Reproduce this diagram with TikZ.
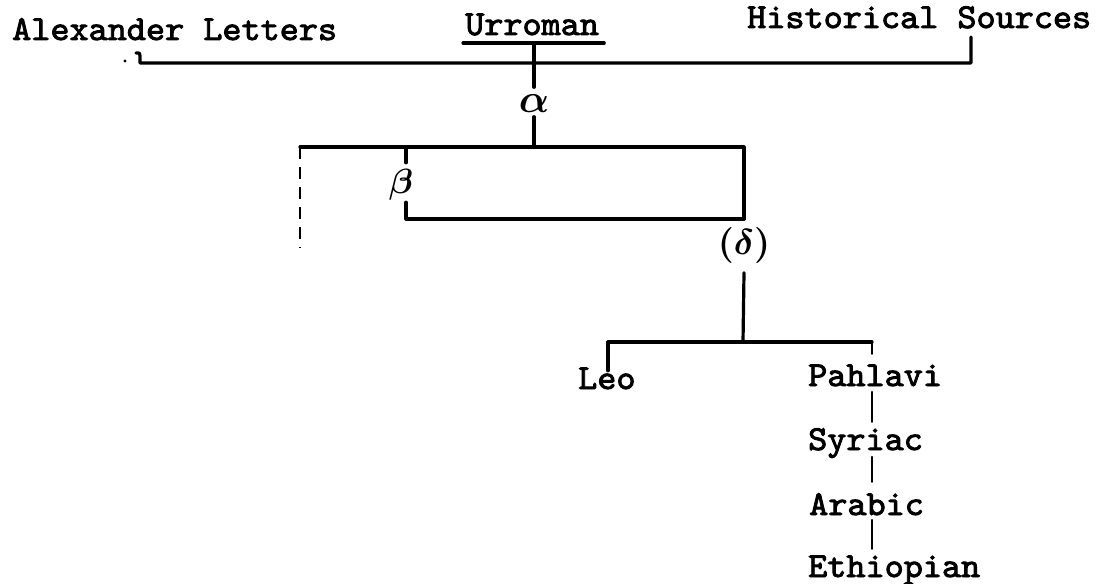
\documentclass[tikz,border=0pt]{standalone}
\usepackage{fontspec}
\newfontfamily\tw{lmmono10-regular.otf}[FakeBold=2.5,FakeStretch=1.04]
\usetikzlibrary{calc}
\tikzset{
  txt/.style={font=\tw\fontsize{35}{38}\selectfont, inner sep=0pt, anchor=base west, text height=21pt, text depth=0pt},
  greek/.style={inner sep=0pt},
  mainline/.style={line width=3.2pt, line cap=round, line join=round},
  chainline/.style={line width=2.2pt, line cap=round},
  lostline/.style={line width=2.6pt, dash pattern=on 12pt off 8pt},
}
\begin{document}
\begin{tikzpicture}[x=1pt,y=-1pt]
\useasboundingbox (0,0) rectangle (1099,583);
% texts
\node[txt] (alex) at (12,40) {Alexander Letters};
\node[txt] (urroman) at (465,35) {Urroman};
\node[txt] (hist) at (747,28) {Historical Sources};
\node[greek, scale=4] (alpha) at (534,104) {{\boldmath$\alpha$}};
\node[greek, scale=3.5] (beta) at (401,185) {{\boldmath$\beta$}};
\node[greek, scale=3.6] (delta) at (744,245) {{\boldmath$(\delta)$}};
\node[txt] (leo) at (578,389) {Leo};
\node[txt] (pahlavi) at (808,386) {Pahlavi};
\node[txt] (syriac) at (808,450) {Syriac};
\node[txt] (arabic) at (809,515) {Arabic};
\node[txt] (ethiopian) at (808,577) {Ethiopian};
% junction coordinates
\coordinate (hookA) at (140,56);
\coordinate (hookH) at (971,37);
\coordinate (jt) at (534,63);
\coordinate (ul) at ($(urroman.base)+(0,8)$);
\coordinate (j2L) at (300,147);
\coordinate (j2R) at (744,147);
\coordinate (j2) at (534,147);
\coordinate (bx) at (406,147);
\coordinate (jd) at (744,219);
\coordinate (lost) at (300,248);
\coordinate (j3) at (743,342);
\coordinate (j3L) at (608,342);
\coordinate (j3R) at (872,342);
% Urroman underline
\draw[mainline] ($(urroman.base west)+(-2,8)$) -- ($(urroman.base east)+(5,8)$);
% top bracket
\fill (125,61) circle (1.6pt);
\draw[mainline] (136,53) .. controls (140,53) .. (hookA) -- (hookA |- jt) -- (jt -| hookH) -- (hookH);
% Urroman to alpha
\draw[mainline] (alpha.north |- ul) -- ($(alpha.north)+(0,-7)$);
\draw[mainline] ($(alpha.south)+(0,3)$) -- (j2);
% second bracket
\draw[mainline] (j2L) -- (j2R) -- (jd);
\draw[lostline] (j2L) -- (lost);
\draw[mainline] (bx) -- ($(bx |- beta.north)+(0,-6)$);
\draw[mainline] ($(bx |- beta.south)+(0,1)$) |- (jd);
% delta
\draw[mainline] ($(delta.south)+(0,9)$) -- (j3);
\draw[mainline] (j3L) -- (j3R);
\draw[mainline] (j3L) -- ($(j3L |- leo.north)+(0,3)$);
\draw[chainline] (j3R) -- ($(j3R |- pahlavi.north)+(0,-11)$);
\draw[chainline] ($(j3R |- pahlavi.base)+(0,6)$) -- ($(j3R |- syriac.north)+(0,-7)$);
\draw[chainline] ($(j3R |- syriac.base)+(0,7)$) -- ($(j3R |- arabic.north)+(0,-12)$);
\draw[chainline] ($(j3R |- arabic.base)+(0,5)$) -- ($(j3R |- ethiopian.north)+(0,-7)$);
\end{tikzpicture}
\end{document}
